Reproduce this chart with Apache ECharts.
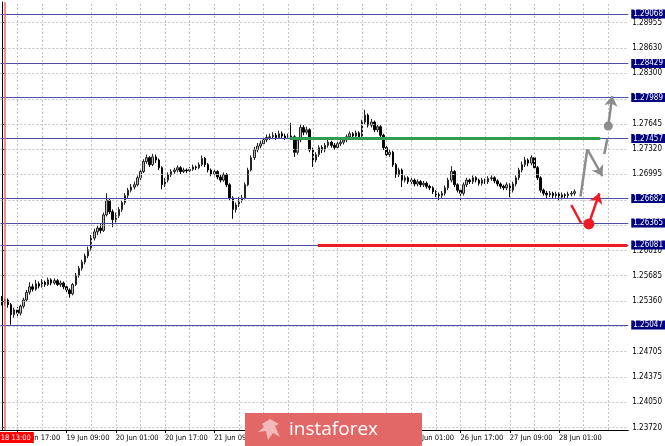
<!DOCTYPE html>
<html><head><meta charset="utf-8">
<script src="https://cdn.jsdelivr.net/npm/echarts@6/dist/echarts.min.js"></script>
<style>html,body{margin:0;padding:0;background:#fff}#c{width:665px;height:446px}</style>
</head><body><div id="c"></div>
<script>
// ---- categories (H1 bars, weekend skipped) ----
const dayLabels = ['18 Jun','19 Jun','20 Jun','21 Jun','22 Jun','25 Jun','26 Jun','27 Jun','28 Jun'];
const firstHour = 12;
const slotCount = 204;
const categories = [];
for (let d = 0; d < dayLabels.length && categories.length < slotCount; d++) {
  for (let h = (d === 0 ? firstHour : 0); h < 24 && categories.length < slotCount; h++) {
    categories.push(dayLabels[d] + ' ' + String(h).padStart(2, '0') + ':00');
  }
}
const cursorLabel = '18.06.18 13:00';
const cursorIndex = 1;

// ---- candle values ----
const opens = [
1.2538,1.2533,1.2537,1.2531,1.2518,1.2524,1.2520,1.2529,1.2537,1.2547,
1.2554,1.2551,1.2558,1.2555,1.2560,1.2557,1.2563,1.2559,1.2562,1.2557,
1.2559,1.2554,1.2550,1.2545,1.2557,1.2569,1.2578,1.2586,1.2594,1.2602,
1.2617,1.2625,1.2630,1.2627,1.2647,1.2666,1.2651,1.2641,1.2646,1.2654,
1.2663,1.2672,1.2679,1.2683,1.2686,1.2695,1.2703,1.2716,1.2721,1.2712,
1.2722,1.2718,1.2708,1.2686,1.2692,1.2699,1.2703,1.2705,1.2708,1.2703,
1.2705,1.2704,1.2706,1.2709,1.2708,1.2712,1.2720,1.2712,1.2705,1.2700,
1.2703,1.2696,1.2692,1.2699,1.2686,1.2669,1.2654,1.2660,1.2666,1.2669,
1.2686,1.2705,1.2721,1.2731,1.2736,1.2739,1.2744,1.2747,1.2748,1.2750,
1.2747,1.2752,1.2749,1.2747,1.2749,1.2748,1.2728,1.2744,1.2760,1.2754,
1.2757,1.2731,1.2718,1.2725,1.2734,1.2731,1.2737,1.2741,1.2737,1.2734,
1.2739,1.2741,1.2744,1.2748,1.2752,1.2749,1.2753,1.2748,1.2767,1.2776,
1.2763,1.2767,1.2757,1.2761,1.2750,1.2734,1.2725,1.2728,1.2712,1.2699,
1.2705,1.2692,1.2695,1.2690,1.2692,1.2687,1.2690,1.2686,1.2688,1.2684,
1.2682,1.2677,1.2673,1.2672,1.2675,1.2682,1.2692,1.2703,1.2686,1.2679,
1.2675,1.2686,1.2692,1.2690,1.2695,1.2692,1.2688,1.2692,1.2690,1.2694,
1.2695,1.2691,1.2687,1.2684,1.2682,1.2686,1.2679,1.2687,1.2695,1.2705,
1.2712,1.2718,1.2714,1.2721,1.2708,1.2695,1.2679,1.2675,1.2673,1.2675,
1.2672,1.2674,1.2670,1.2673,1.2672,1.2674,1.2675
];
const closes = [
1.2533,1.2537,1.2531,1.2518,1.2524,1.2520,1.2529,1.2537,1.2547,1.2554,
1.2551,1.2558,1.2555,1.2560,1.2557,1.2563,1.2559,1.2562,1.2557,1.2559,
1.2554,1.2550,1.2545,1.2557,1.2569,1.2578,1.2586,1.2594,1.2602,1.2617,
1.2625,1.2630,1.2627,1.2647,1.2666,1.2651,1.2641,1.2646,1.2654,1.2663,
1.2672,1.2679,1.2683,1.2686,1.2695,1.2703,1.2716,1.2721,1.2712,1.2722,
1.2718,1.2708,1.2686,1.2692,1.2699,1.2703,1.2705,1.2708,1.2703,1.2705,
1.2704,1.2706,1.2709,1.2708,1.2712,1.2720,1.2712,1.2705,1.2700,1.2703,
1.2696,1.2692,1.2699,1.2686,1.2669,1.2654,1.2660,1.2666,1.2669,1.2686,
1.2705,1.2721,1.2731,1.2736,1.2739,1.2744,1.2747,1.2748,1.2750,1.2747,
1.2752,1.2749,1.2747,1.2749,1.2748,1.2728,1.2744,1.2760,1.2754,1.2757,
1.2731,1.2718,1.2725,1.2734,1.2731,1.2737,1.2741,1.2737,1.2734,1.2739,
1.2741,1.2744,1.2748,1.2752,1.2749,1.2753,1.2748,1.2767,1.2776,1.2763,
1.2767,1.2757,1.2761,1.2750,1.2734,1.2725,1.2728,1.2712,1.2699,1.2705,
1.2692,1.2695,1.2690,1.2692,1.2687,1.2690,1.2686,1.2688,1.2684,1.2682,
1.2677,1.2673,1.2672,1.2675,1.2682,1.2692,1.2703,1.2686,1.2679,1.2675,
1.2686,1.2692,1.2690,1.2695,1.2692,1.2688,1.2692,1.2690,1.2694,1.2695,
1.2691,1.2687,1.2684,1.2682,1.2686,1.2679,1.2687,1.2695,1.2705,1.2712,
1.2718,1.2714,1.2721,1.2708,1.2695,1.2679,1.2675,1.2673,1.2675,1.2672,
1.2674,1.2670,1.2673,1.2672,1.2674,1.2675,1.2677
];
const highs = [
1.2542,1.2540,1.2539,1.2533,1.2527,1.2528,1.2531,1.2540,1.2550,1.2560,
1.2558,1.2563,1.2561,1.2564,1.2562,1.2566,1.2565,1.2565,1.2564,1.2562,
1.2561,1.2557,1.2552,1.2559,1.2572,1.2581,1.2589,1.2597,1.2606,1.2621,
1.2629,1.2634,1.2635,1.2650,1.2675,1.2668,1.2654,1.2650,1.2657,1.2666,
1.2675,1.2682,1.2687,1.2690,1.2698,1.2707,1.2719,1.2725,1.2723,1.2726,
1.2725,1.2720,1.2710,1.2695,1.2702,1.2706,1.2708,1.2711,1.2710,1.2708,
1.2707,1.2709,1.2712,1.2711,1.2715,1.2724,1.2722,1.2714,1.2707,1.2706,
1.2705,1.2699,1.2702,1.2701,1.2688,1.2671,1.2663,1.2670,1.2673,1.2689,
1.2708,1.2724,1.2735,1.2740,1.2743,1.2747,1.2751,1.2752,1.2754,1.2753,
1.2756,1.2755,1.2752,1.2752,1.2766,1.2750,1.2747,1.2764,1.2763,1.2761,
1.2759,1.2734,1.2728,1.2737,1.2737,1.2740,1.2744,1.2743,1.2740,1.2742,
1.2744,1.2747,1.2751,1.2755,1.2754,1.2756,1.2755,1.2770,1.2783,1.2778,
1.2771,1.2769,1.2764,1.2763,1.2752,1.2736,1.2731,1.2730,1.2714,1.2708,
1.2707,1.2698,1.2697,1.2695,1.2694,1.2693,1.2692,1.2691,1.2690,1.2686,
1.2684,1.2679,1.2676,1.2678,1.2685,1.2695,1.2710,1.2705,1.2688,1.2681,
1.2689,1.2695,1.2694,1.2698,1.2697,1.2694,1.2695,1.2694,1.2697,1.2698,
1.2697,1.2693,1.2689,1.2686,1.2689,1.2688,1.2690,1.2698,1.2708,1.2716,
1.2722,1.2720,1.2724,1.2723,1.2710,1.2697,1.2681,1.2678,1.2678,1.2677,
1.2677,1.2676,1.2676,1.2675,1.2677,1.2678,1.2680
];
const lows = [
1.2530,1.2530,1.2527,1.2505,1.2514,1.2516,1.2517,1.2526,1.2535,1.2544,
1.2548,1.2549,1.2552,1.2553,1.2554,1.2555,1.2556,1.2557,1.2555,1.2554,
1.2551,1.2547,1.2540,1.2543,1.2555,1.2566,1.2575,1.2583,1.2591,1.2600,
1.2614,1.2621,1.2623,1.2625,1.2645,1.2648,1.2631,1.2637,1.2643,1.2651,
1.2660,1.2669,1.2676,1.2680,1.2684,1.2692,1.2701,1.2713,1.2709,1.2710,
1.2714,1.2705,1.2680,1.2683,1.2689,1.2696,1.2700,1.2702,1.2700,1.2701,
1.2701,1.2702,1.2704,1.2705,1.2706,1.2710,1.2709,1.2702,1.2697,1.2698,
1.2693,1.2689,1.2690,1.2683,1.2665,1.2642,1.2650,1.2657,1.2663,1.2667,
1.2684,1.2703,1.2718,1.2728,1.2733,1.2736,1.2741,1.2744,1.2745,1.2744,
1.2745,1.2746,1.2744,1.2745,1.2745,1.2722,1.2725,1.2741,1.2750,1.2751,
1.2728,1.2709,1.2715,1.2722,1.2727,1.2728,1.2734,1.2734,1.2731,1.2731,
1.2736,1.2738,1.2741,1.2745,1.2746,1.2746,1.2745,1.2746,1.2764,1.2760,
1.2760,1.2754,1.2754,1.2747,1.2731,1.2721,1.2722,1.2709,1.2695,1.2696,
1.2683,1.2689,1.2687,1.2687,1.2684,1.2684,1.2683,1.2683,1.2681,1.2679,
1.2674,1.2670,1.2666,1.2669,1.2672,1.2679,1.2689,1.2683,1.2676,1.2666,
1.2672,1.2683,1.2687,1.2687,1.2689,1.2685,1.2685,1.2687,1.2687,1.2691,
1.2688,1.2684,1.2681,1.2679,1.2679,1.2670,1.2676,1.2684,1.2692,1.2702,
1.2709,1.2710,1.2711,1.2705,1.2692,1.2676,1.2672,1.2669,1.2670,1.2668,
1.2669,1.2666,1.2667,1.2669,1.2669,1.2671,1.2672
];

// ---- price axis ----
const yTickLabels = [1.23720,1.24050,1.24375,1.24705,1.25360,1.25685,1.26010,1.26995,1.27320,1.27645,1.28300,1.28630,1.28955];
const gridPrices = [1.23720,1.24050,1.24375,1.24705,1.25035,1.25360,1.25685,1.26010,1.26340,1.26665,1.26995,1.27320,1.27645,1.27970,1.28300,1.28630,1.28955];
const levelPrices = [1.29068,1.28429,1.27989,1.27457,1.26682,1.26365,1.26081,1.25047];

// ---- drawn annotations (bar index, price) ----
const greenLine = [[93.5,1.27457],[194.4,1.27457]];
const redLine = [[102.6,1.26081],[203.2,1.26081]];
const grayUpLeg = [[188.0,1.26706],[190.2,1.27319]];
const grayDownArrow = [[190.2,1.27319],[195.1,1.26973]];
const grayStub = [[195.7,1.27258],[196.7,1.27450]];
const grayDot = [197.0,1.27620];
const grayUpArrow = [[197.0,1.27620],[198.3,1.28008]];
const redDownLeg = [[185.0,1.26598],[188.2,1.26362]];
const redDot = [190.7,1.26353];
const redUpArrow = [[190.7,1.26353],[194.1,1.26750]];

const FONT = '"Liberation Sans Narrow","DejaVu Sans Condensed","Liberation Sans",Arial,sans-serif';
const nBars = closes.length;
const candleData = closes.map((c, i) => [opens[i], c, lows[i], highs[i]]);
const gridVerticalIdx = [];
for (let i = 5; i < slotCount; i += 8) gridVerticalIdx.push(i);

const GRAY = '#8c8c8c', RED = '#ee1b24';
const chart = echarts.init(document.getElementById('c'));
chart.setOption({
  animation: false,
  backgroundColor: '#ffffff',
  grid: { left: 0.4, right: 36, top: 2, bottom: 16 },
  xAxis: [{
    type: 'category', data: categories, boundaryGap: true,
    axisLine: { show: true, lineStyle: { color: '#000', width: 1 } },
    axisTick: { show: true, alignWithLabel: true, length: 3, interval: (i) => i < nBars && (i - 5) % 16 === 0, lineStyle: { color: '#000' } },
    axisLabel: { interval: (i) => i < nBars && (i - 5) % 16 === 0, align: 'left', margin: 4, fontSize: 7.5, color: '#000', fontFamily: FONT },
    splitLine: { show: false }
  }, {
    type: 'value', min: -0.5, max: slotCount - 0.5, show: false
  }],
  yAxis: {
    type: 'value', position: 'right', min: 1.23689, max: 1.29223, scale: true,
    axisLine: { show: true, lineStyle: { color: '#000', width: 1 } },
    axisTick: { show: true, customValues: yTickLabels, length: 3, lineStyle: { color: '#000' } },
    axisLabel: { customValues: yTickLabels, formatter: (v) => v.toFixed(5), fontSize: 8, margin: 4, color: '#000', fontFamily: FONT },
    splitLine: { show: false }
  },
  series: [
    { type: 'line', data: [], xAxisIndex: 1, z: 1, silent: true,
      markLine: { silent: true, symbol: 'none', animation: false, precision: 6,
        lineStyle: { color: '#c4c4c4', type: [2, 2], width: 1, opacity: 1 }, label: { show: false },
        data: gridPrices.map(v => ({ yAxis: v })).concat(gridVerticalIdx.map(i => ({ xAxis: i }))) } },
    { type: 'candlestick', data: candleData, z: 3, barWidth: 2,
      itemStyle: { color: '#bdbdbd', color0: '#000', borderColor: '#222', borderColor0: '#000', borderWidth: 1 } },
    { type: 'line', data: [], z: 4, silent: true,
      markLine: { silent: true, symbol: 'none', animation: false, precision: 6,
        lineStyle: { color: '#4e4ea6', type: 'solid', width: 1.2, opacity: 1 },
        label: { show: true, position: 'end', distance: 3, formatter: (p) => Number(p.value).toFixed(5),
          backgroundColor: '#000080', color: '#fff', padding: [1, 2, 0, 2], fontSize: 8, fontFamily: FONT },
        data: levelPrices.map(v => ({ yAxis: v })) } },
    { type: 'lines', coordinateSystem: 'cartesian2d', xAxisIndex: 1, yAxisIndex: 0, z: 5, silent: true,
      symbol: 'none',
      data: [
        { coords: greenLine, lineStyle: { color: '#2f9e4e', width: 3, opacity: 1 } },
        { coords: redLine, lineStyle: { color: RED, width: 3, opacity: 1 } },
        { coords: grayUpLeg, lineStyle: { color: GRAY, width: 2.5, opacity: 1 } },
        { coords: grayStub, lineStyle: { color: GRAY, width: 2.5, opacity: 1 } },
        { coords: redDownLeg, lineStyle: { color: RED, width: 2.5, opacity: 1 } }
      ] },
    { type: 'lines', coordinateSystem: 'cartesian2d', xAxisIndex: 1, yAxisIndex: 0, z: 6, silent: true,
      symbol: ['none', 'arrow'], symbolSize: 10,
      data: [
        { coords: grayDownArrow, lineStyle: { color: GRAY, width: 2.5, opacity: 1 } },
        { coords: grayUpArrow, lineStyle: { color: GRAY, width: 2.5, opacity: 1 } },
        { coords: redUpArrow, lineStyle: { color: RED, width: 2.5, opacity: 1 } }
      ] },
    { type: 'scatter', xAxisIndex: 1, yAxisIndex: 0, z: 7, silent: true, symbolSize: 9,
      data: [{ value: grayDot, itemStyle: { color: GRAY, opacity: 1 } }, { value: redDot, symbolSize: 11, itemStyle: { color: RED, opacity: 1 } }] },
    { type: 'line', data: [], xAxisIndex: 1, z: 8, silent: true,
      markLine: { silent: true, symbol: 'none', animation: false,
        lineStyle: { color: '#f26a6a', type: 'solid', width: 1.5, opacity: 1 },
        label: { show: true, position: 'start', distance: 2, formatter: cursorLabel,
          backgroundColor: '#ff0000', color: '#fff', padding: [2, 3, 1, 3], fontSize: 7.5, fontFamily: FONT },
        data: [{ xAxis: cursorIndex }] } }
  ],
  graphic: [
    { type: 'rect', z: 100, shape: { x: 245, y: 413, width: 177, height: 40 }, style: { fill: '#e26767' } },
    { type: 'polygon', z: 101, shape: { points: [[262,424],[270,419],[279,424],[275,426],[280,437],[273,433],[268,440],[266,431],[258,432],[264,427]] }, style: { fill: '#f3b9b9' } },
    { type: 'text', z: 101, x: 289, y: 430, style: { text: 'instaforex', fill: '#ffffff', fontSize: 19, fontFamily: '"Open Sans", Lato, sans-serif', verticalAlign: 'middle' } }
  ]
});
</script></body></html>
